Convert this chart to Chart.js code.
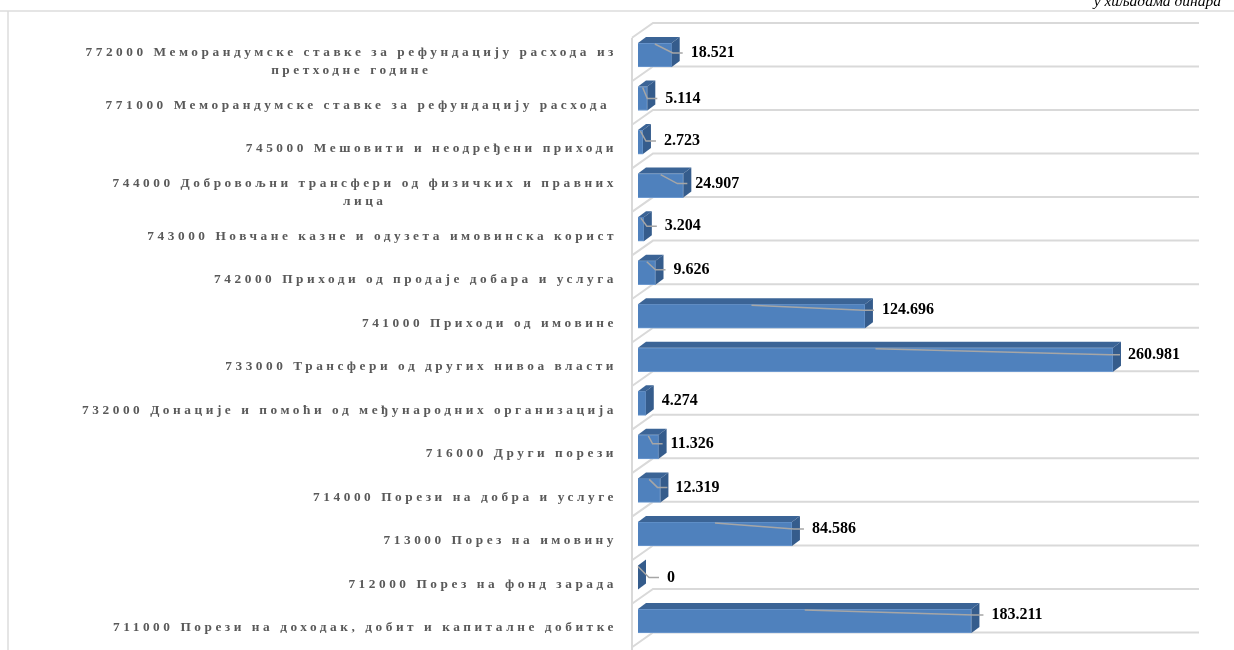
<!DOCTYPE html>
<html>
<head>
<meta charset="utf-8">
<style>
  html, body { margin: 0; padding: 0; background: #fff; overflow: hidden; }
  canvas { display: block; }
</style>
<script src="https://cdn.jsdelivr.net/npm/chart.js@4"></script>
</head>
<body>
<canvas id="revenueChart" width="1234" height="650"></canvas>
<script>
const categories = [
  ['772000 Меморандумске ставке за рефундацију расхода из', 'претходне године'],
  ['771000 Меморандумске ставке за рефундацију расхода '],
  ['745000 Мешовити и неодређени приходи'],
  ['744000 Добровољни трансфери од физичких и правних', 'лица'],
  ['743000 Новчане казне и одузета имовинска корист'],
  ['742000 Приходи од продаје добара и услуга'],
  ['741000 Приходи од имовине'],
  ['733000 Трансфери од других нивоа власти'],
  ['732000 Донације и помоћи од међународних организација'],
  ['716000 Други порези'],
  ['714000 Порези на добра и услуге'],
  ['713000 Порез на имовину'],
  ['712000 Порез на фонд зарада'],
  ['711000 Порези на доходак, добит и капиталне добитке']
];
const values = [18.521, 5.114, 2.723, 24.907, 3.204, 9.626, 124.696, 260.981, 4.274, 11.326, 12.319, 84.586, 0, 183.211];
const valueLabels = ['18.521', '5.114', '2.723', '24.907', '3.204', '9.626', '124.696', '260.981', '4.274', '11.326', '12.319', '84.586', '0', '183.211'];

// how far each moved data label sits from its bar, the original was dragged by hand
const labelGap = [19, 18, 21, 12, 21, 18, 17, 15, 16, 12, 15, 20, 29, 20];
const labelRise = [2, 0, 1, 2, 3, 3, 6, 5, 2, 3, 3, 5, 0, 6];

const depthX = 8;
const depthY = 6;

function line(ctx, pts) {
  ctx.beginPath();
  pts.forEach((p, i) => i ? ctx.lineTo(p[0], p[1]) : ctx.moveTo(p[0], p[1]));
  ctx.stroke();
}

function poly(ctx, pts, color) {
  ctx.fillStyle = color;
  ctx.beginPath();
  pts.forEach((p, i) => i ? ctx.lineTo(p[0], p[1]) : ctx.moveTo(p[0], p[1]));
  ctx.closePath();
  ctx.fill();
}

const bar3d = {
  id: 'bar3d',
  beforeDatasetsDraw(chart) {
    const ctx = chart.ctx;
    const y = chart.scales.y;
    const a = chart.chartArea;
    ctx.save();

    // outer frame of the page
    ctx.strokeStyle = '#DDDDDD';
    ctx.lineWidth = 1.5;
    line(ctx, [[0, 11], [1234, 11]]);
    line(ctx, [[8, 11], [8, 650]]);

    // floor and side wall
    ctx.strokeStyle = '#D9D9D9';
    ctx.lineWidth = 2;
    line(ctx, [[a.left - 6, 38], [a.left - 6, 650]]);
    categories.concat([[]]).forEach((c, i) => {
      const py = y.getPixelForValue(i - 0.5);
      line(ctx, [[a.left - 6, py + 4.5], [a.left + 15, py - 10.3], [a.right + 15, py - 10.3]]);
    });

    // category labels, wider line to the right, the other one centred on it
    ctx.font = 'bold 13.3px "Liberation Serif"';
    ctx.letterSpacing = '3.55px';
    ctx.fillStyle = '#595959';
    ctx.textAlign = 'center';
    ctx.textBaseline = 'middle';
    categories.forEach((lines, i) => {
      const w = Math.max(...lines.map(t => ctx.measureText(t).width));
      const cx = 617 - w / 2;
      const cy = y.getPixelForValue(i) + 7;
      lines.forEach((t, j) => {
        ctx.fillText(t, cx, cy + (j - (lines.length - 1) / 2) * 18);
      });
    });
    ctx.letterSpacing = '0px';
    ctx.restore();
  },
  afterDatasetsDraw(chart) {
    const ctx = chart.ctx;
    const x0 = chart.scales.x.getPixelForValue(0);
    ctx.save();
    chart.getDatasetMeta(0).data.forEach((bar, i) => {
      const top = bar.y - bar.height / 2;
      const bottom = bar.y + bar.height / 2;
      const end = bar.x;

      poly(ctx, [[x0, top], [x0 + depthX, top - depthY], [end + depthX, top - depthY], [end, top]], '#3B6496');
      poly(ctx, [[end, top], [end + depthX, top - depthY], [end + depthX, bottom - depthY], [end, bottom]], '#355C8C');

      const labelX = end + labelGap[i];
      const labelY = bar.y - labelRise[i];

      // leader line from the middle of the bar to the moved label
      if (valueLabels[i] !== '4.274') {
        ctx.strokeStyle = '#A6A6A6';
        ctx.lineWidth = 1.5;
        line(ctx, [[(x0 + end) / 2, top + 1], [labelX - 18, labelY], [labelX - 8, labelY]]);
      }

      ctx.font = 'bold 16px "Liberation Serif"';
      ctx.fillStyle = '#000000';
      ctx.textAlign = 'left';
      ctx.textBaseline = 'middle';
      ctx.fillText(valueLabels[i], labelX, labelY);
    });

    ctx.font = 'italic 15.5px "Liberation Serif"';
    ctx.fillStyle = '#000000';
    ctx.textAlign = 'right';
    ctx.textBaseline = 'alphabetic';
    ctx.fillText('у хиљадама динара', 1221, 6);
    ctx.restore();
  }
};

new Chart(document.getElementById('revenueChart').getContext('2d'), {
  type: 'bar',
  data: {
    labels: categories,
    datasets: [{
      data: values,
      backgroundColor: '#4F81BD',
      borderColor: '#6E9AD0',
      borderWidth: 1,
      barThickness: 24
    }]
  },
  options: {
    indexAxis: 'y',
    responsive: false,
    animation: false,
    layout: { padding: { left: 638, right: 50, top: 33.2, bottom: 7.2 } },
    plugins: { legend: { display: false }, tooltip: { enabled: false } },
    scales: {
      x: { display: false, min: 0, max: 300 },
      y: { display: false }
    }
  },
  plugins: [bar3d]
});
</script>
</body>
</html>
